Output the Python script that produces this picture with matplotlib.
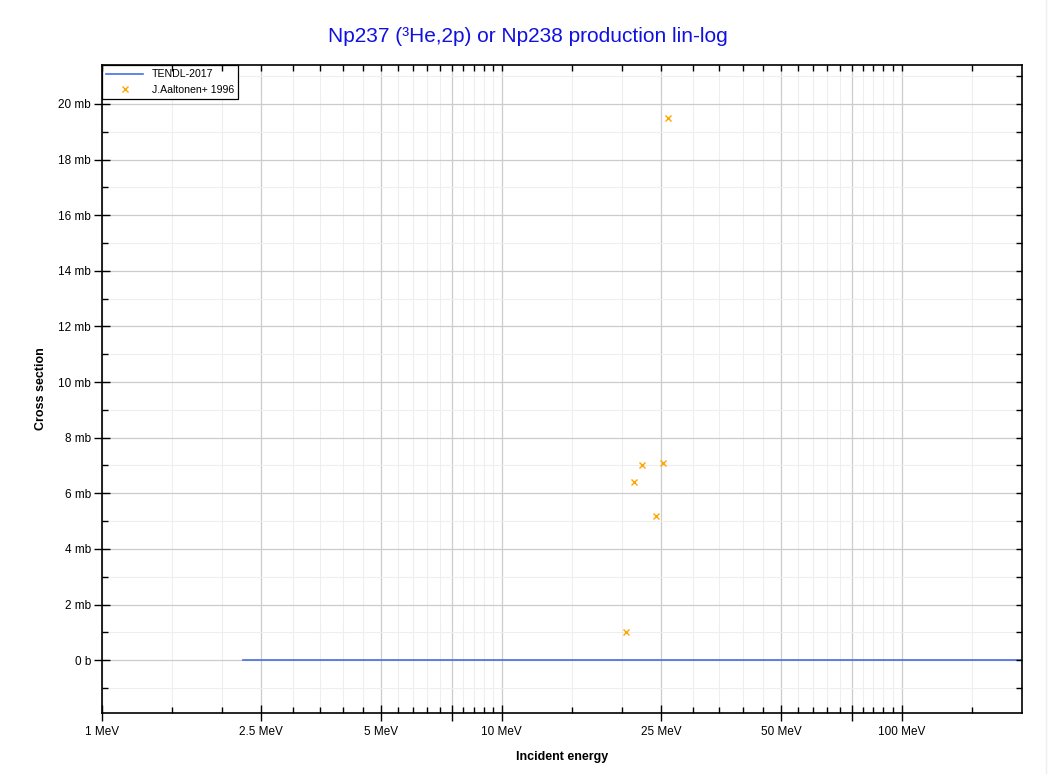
import numpy as np
import matplotlib.pyplot as plt
from matplotlib.ticker import FixedLocator, FuncFormatter, NullFormatter
from matplotlib.lines import Line2D

plt.rcParams['font.family'] = ['Liberation Sans', 'DejaVu Sans']

# TENDL-2017 evaluation (MeV, mb)
tendl_e = [2.256, 5.0, 10.0, 25.0, 50.0, 100.0, 200.0]
tendl_xs = [0.0, 0.0, 0.0, 0.0, 0.0, 0.0, 0.0]

# J.Aaltonen+ 1996 measurements (MeV, mb)
exp_e = [20.46, 21.36, 22.43, 24.37, 25.36, 26.05]
exp_xs = [1.0, 6.4, 7.0, 5.2, 7.1, 19.5]

major_x = [1, 2.5, 5, 7.5, 10, 25, 50, 75, 100]
major_lab = {1: '1 MeV', 2.5: '2.5 MeV', 5: '5 MeV', 10: '10 MeV',
             25: '25 MeV', 50: '50 MeV', 100: '100 MeV'}
minor_mult = [1.5, 2, 3, 3.5, 4, 4.5, 5.5, 6, 6.5, 7, 8, 8.5, 9, 9.5]

xlim = (1, 200)
ylim = (-1.9, 21.4)
pos = [0.0967, 0.0788, 0.872, 0.8372]

fig = plt.figure(figsize=(10.55, 7.74), dpi=100)
ax = fig.add_axes(pos)

ax.plot(tendl_e, tendl_xs, color='#4a6fe0', lw=1.2, label='TENDL-2017')
ax.plot(exp_e, exp_xs, 'x', color='orange', ms=5, mew=1.0, ls='none',
        label='J.Aaltonen+ 1996')

ax.set_xscale('log')
ax.set_xlim(*xlim)
ax.set_ylim(*ylim)

minors = [m * d for d in (1, 10, 100) for m in minor_mult if m * d < 200]
ax.xaxis.set_major_locator(FixedLocator(major_x))
ax.xaxis.set_minor_locator(FixedLocator(minors))
ax.xaxis.set_major_formatter(FuncFormatter(lambda v, p: major_lab.get(round(v, 3), '')))
ax.xaxis.set_minor_formatter(NullFormatter())

yticks = np.arange(0, 21, 2)
yminor = np.arange(-1, 22, 1)
ax.yaxis.set_major_locator(FixedLocator(yticks))
ax.yaxis.set_minor_locator(FixedLocator(yminor))
ax.yaxis.set_major_formatter(FuncFormatter(lambda v, p: '0 b' if v == 0 else '%d mb' % v))

ax.grid(which='major', color='#cccccc', lw=0.9)
ax.grid(which='minor', color='#eeeeee', lw=0.8)
ax.set_axisbelow(True)

ax.tick_params(which='major', direction='inout', length=12, width=1.0, labelsize=8.5)
ax.tick_params(axis='x', which='major', pad=3)
ax.tick_params(axis='y', which='major', pad=2)
ax.tick_params(which='minor', direction='in', length=4, width=1.0)
for s in ax.spines.values():
    s.set_linewidth(1.2)

# small inward ticks on top and right, drawn by an overlay axes
ov = fig.add_axes(pos, frameon=False)
ov.set_xscale('log')
ov.set_xlim(*xlim)
ov.set_ylim(*ylim)
ov.xaxis.set_major_locator(FixedLocator(major_x + minors))
ov.xaxis.set_minor_locator(FixedLocator([]))
ov.yaxis.set_major_locator(FixedLocator(list(yminor)))
ov.xaxis.set_major_formatter(NullFormatter())
ov.yaxis.set_major_formatter(NullFormatter())
ov.tick_params(which='both', direction='in', length=4, width=1.0,
               bottom=False, left=False, top=True, right=True,
               labelbottom=False, labelleft=False)
ov.patch.set_visible(False)

ax.set_xlabel('Incident energy', fontsize=9, fontweight='bold', labelpad=10)
ax.set_ylabel('Cross section', fontsize=9, fontweight='bold', labelpad=8)
fig.suptitle('Np237 (³He,2p) or Np238 production lin-log', color='#1010e0',
             fontsize=15, y=0.965)

leg = ax.legend(loc='upper left', fontsize=7.6, fancybox=False, edgecolor='black',
                framealpha=1, borderaxespad=0.0, handlelength=3.5)
leg.get_frame().set_linewidth(0.9)

fig.add_artist(Line2D([0.991, 0.991], [0, 1], color='#eeeeee', lw=1.0))

fig.savefig('out.png', dpi=100)
